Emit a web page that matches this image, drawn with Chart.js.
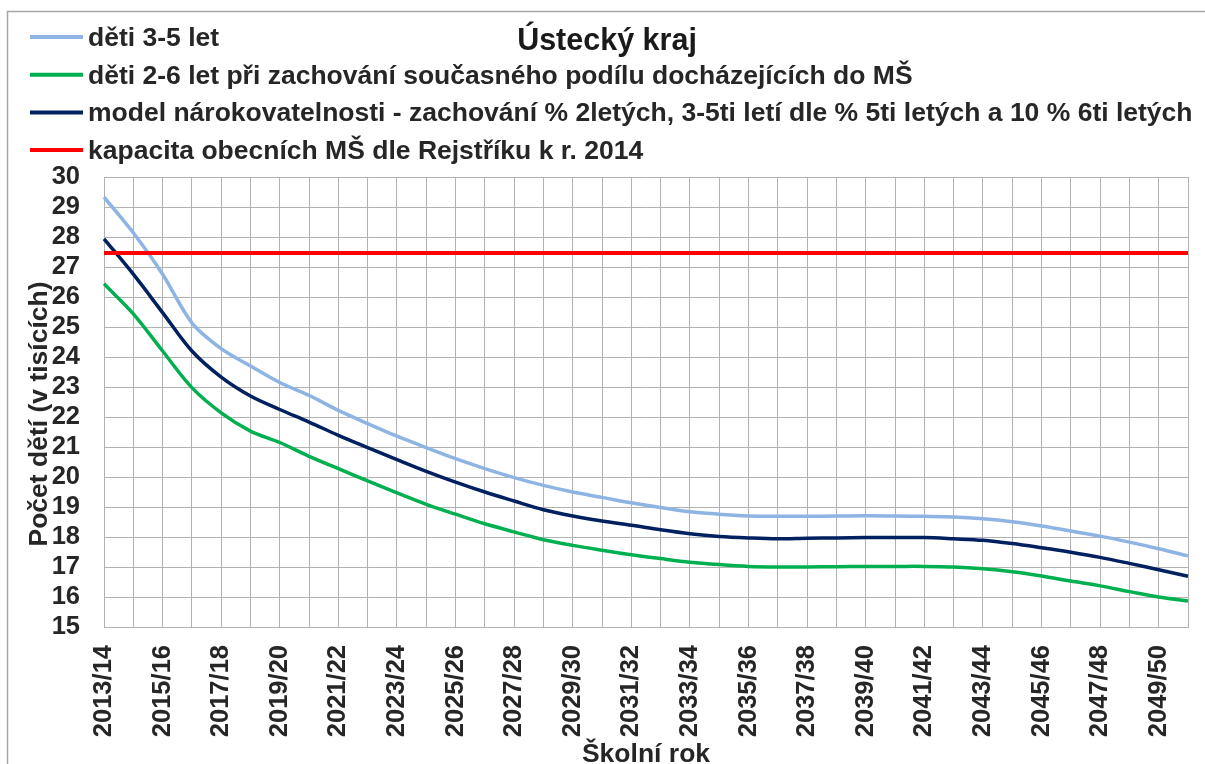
<!DOCTYPE html>
<html lang="cs">
<head>
<meta charset="utf-8">
<title>Ústecký kraj</title>
<script src="https://cdn.jsdelivr.net/npm/chart.js@4.4.1/dist/chart.umd.min.js"></script>
<style>
  html, body { margin: 0; padding: 0; background: #ffffff; }
  #wrap { position: relative; width: 1205px; height: 764px; }
</style>
</head>
<body>
<div id="wrap"><canvas id="chart"></canvas></div>
<script>
// School years on the category axis
const schoolYears = [
  '2013/14', '2014/15', '2015/16', '2016/17', '2017/18', '2018/19', '2019/20', '2020/21',
  '2021/22', '2022/23', '2023/24', '2024/25', '2025/26', '2026/27', '2027/28', '2028/29',
  '2029/30', '2030/31', '2031/32', '2032/33', '2033/34', '2034/35', '2035/36', '2036/37',
  '2037/38', '2038/39', '2039/40', '2040/41', '2041/42', '2042/43', '2043/44', '2044/45',
  '2045/46', '2046/47', '2047/48', '2048/49', '2049/50', '2050/51'
];

// Children aged 3-5 (thousands)
const children3to5 = [
  29.33, 28.14, 26.76, 25.14, 24.28, 23.70, 23.15, 22.72, 22.22, 21.78,
  21.36, 20.98, 20.61, 20.28, 19.98, 19.72, 19.50, 19.32, 19.14, 18.98,
  18.84, 18.76, 18.70, 18.69, 18.69, 18.70, 18.71, 18.70, 18.69, 18.67,
  18.61, 18.51, 18.37, 18.20, 18.03, 17.83, 17.61, 17.37
];

// Children aged 2-6 keeping the current share attending kindergarten (thousands)
const children2to6Attending = [
  26.44, 25.44, 24.20, 22.98, 22.14, 21.53, 21.15, 20.69, 20.28, 19.87,
  19.47, 19.09, 18.76, 18.44, 18.17, 17.91, 17.72, 17.56, 17.41, 17.28,
  17.16, 17.08, 17.02, 17.00, 17.00, 17.01, 17.02, 17.02, 17.02, 17.00,
  16.94, 16.84, 16.70, 16.53, 16.37, 16.18, 16.00, 15.87
];

// Entitlement model (thousands)
const entitlementModel = [
  27.94, 26.76, 25.48, 24.20, 23.33, 22.70, 22.25, 21.83, 21.39, 20.98,
  20.58, 20.19, 19.83, 19.50, 19.20, 18.91, 18.70, 18.53, 18.39, 18.24,
  18.11, 18.02, 17.97, 17.94, 17.96, 17.97, 17.98, 17.98, 17.98, 17.94,
  17.89, 17.78, 17.64, 17.49, 17.32, 17.12, 16.91, 16.69
];

// Capacity of municipal kindergartens per the 2014 register (thousands)
const kindergartenCapacity = [
  27.47, 27.47, 27.47, 27.47, 27.47, 27.47, 27.47, 27.47, 27.47, 27.47,
  27.47, 27.47, 27.47, 27.47, 27.47, 27.47, 27.47, 27.47, 27.47, 27.47,
  27.47, 27.47, 27.47, 27.47, 27.47, 27.47, 27.47, 27.47, 27.47, 27.47,
  27.47, 27.47, 27.47, 27.47, 27.47, 27.47, 27.47, 27.47
];

const seriesLabels = [
  'děti 3-5 let',
  'děti 2-6 let při zachování současného podílu docházejících do MŠ',
  'model nárokovatelnosti - zachování % 2letých, 3-5ti letí dle % 5ti letých a 10 % 6ti letých',
  'kapacita obecních MŠ dle Rejstříku k r. 2014'
];

const chartTitle = 'Ústecký kraj';
const yAxisTitle = 'Počet dětí (v tisících)';
const xAxisTitle = 'Školní rok';

const FONT = '"Liberation Sans", Arial, Helvetica, sans-serif';
const TEXT = '#262626';
const GRID = '#b2b2b2';

// Title, stacked legend, axis titles and outer frame
const decorations = {
  id: 'decorations',
  afterDraw(chart) {
    const ctx = chart.ctx;
    const area = chart.chartArea;
    ctx.save();

    // outer frame (top and left edges)
    ctx.strokeStyle = '#a6a6a6';
    ctx.lineWidth = 1.5;
    ctx.beginPath();
    ctx.moveTo(7.5, chart.height);
    ctx.lineTo(7.5, 11.5);
    ctx.lineTo(chart.width, 11.5);
    ctx.stroke();

    // legend, one entry per row
    ctx.textAlign = 'left';
    ctx.textBaseline = 'alphabetic';
    ctx.font = 'bold 26.5px ' + FONT;
    chart.data.datasets.forEach((ds, i) => {
      const y = 37 + i * 37.7;
      ctx.strokeStyle = ds.borderColor;
      ctx.lineWidth = 4;
      ctx.beginPath();
      ctx.moveTo(30, y);
      ctx.lineTo(83, y);
      ctx.stroke();
      ctx.fillStyle = TEXT;
      ctx.fillText(ds.label, 88, y + 9);
    });

    // chart title
    ctx.fillStyle = '#1a1a1a';
    ctx.font = 'bold 30.5px ' + FONT;
    ctx.textAlign = 'center';
    ctx.fillText(chartTitle, 607, 50);

    // x axis title
    ctx.fillStyle = TEXT;
    ctx.font = 'bold 26.5px ' + FONT;
    ctx.fillText(xAxisTitle, (area.left + area.right) / 2, 762);

    // y axis title
    ctx.translate(47, 414);
    ctx.rotate(-Math.PI / 2);
    ctx.fillText(yAxisTitle, 0, 0);

    ctx.restore();
  }
};

new Chart(document.getElementById('chart'), {
  type: 'line',
  data: {
    labels: schoolYears,
    datasets: [
      { label: seriesLabels[0], data: children3to5, borderColor: '#8db4e2', order: 1 },
      { label: seriesLabels[1], data: children2to6Attending, borderColor: '#00b050', order: 2 },
      { label: seriesLabels[2], data: entitlementModel, borderColor: '#002060', order: 3 },
      { label: seriesLabels[3], data: kindergartenCapacity, borderColor: '#ff0000', order: 0, tension: 0, borderWidth: 4 }
    ]
  },
  options: {
    responsive: true,
    maintainAspectRatio: false,
    animation: false,
    devicePixelRatio: 1,
    layout: { padding: { left: 0, top: 177, right: 17, bottom: 0 } },
    elements: {
      point: { radius: 0, hoverRadius: 0 },
      line: { borderWidth: 3.5, tension: 0.33, fill: false, borderCapStyle: 'butt' }
    },
    plugins: {
      legend: { display: false },
      title: { display: false },
      tooltip: { enabled: false }
    },
    scales: {
      x: {
        type: 'category',
        offset: false,
        afterFit(scale) {
          scale.height = 137;
          scale.paddingLeft = 0;
          scale.paddingRight = 0;
        },
        grid: { color: GRID, lineWidth: 1, drawTicks: false },
        border: { color: GRID, width: 1 },
        ticks: {
          autoSkip: false,
          minRotation: 90,
          maxRotation: 90,
          padding: 18,
          color: TEXT,
          font: { family: FONT, size: 25.5, weight: 'bold' },
          callback(value, index) { return index % 2 === 0 ? schoolYears[index] : ''; }
        }
      },
      y: {
        min: 15,
        max: 30,
        afterFit(scale) {
          scale.width = 104;
          scale.paddingTop = 0;
          scale.paddingBottom = 0;
        },
        grid: { color: GRID, lineWidth: 1, drawTicks: false },
        border: { color: GRID, width: 1 },
        ticks: {
          stepSize: 1,
          autoSkip: false,
          padding: 24,
          color: TEXT,
          font: { family: FONT, size: 25.5, weight: 'bold' }
        }
      }
    }
  },
  plugins: [decorations]
});
</script>
</body>
</html>
